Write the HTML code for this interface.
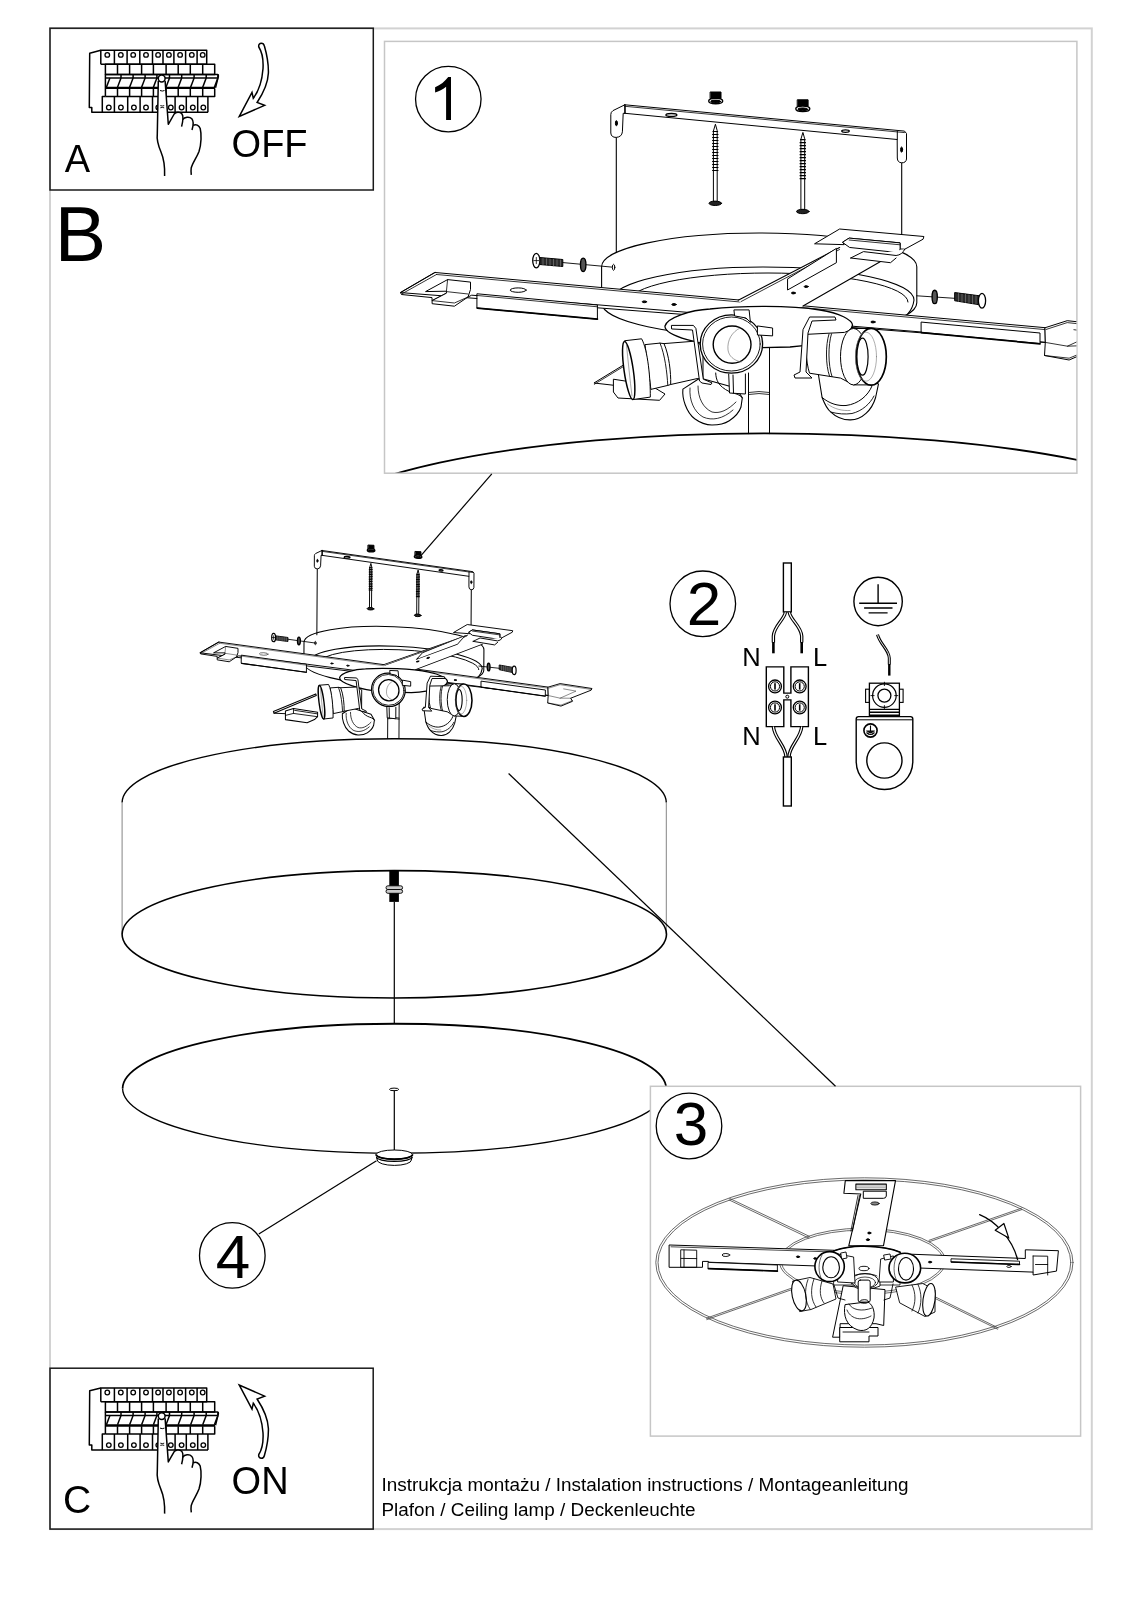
<!DOCTYPE html>
<html><head><meta charset="utf-8"><title>Instrukcja montażu</title>
<style>
html,body{margin:0;padding:0;background:#fff;}
body{width:1131px;height:1600px;overflow:hidden;}
svg{display:block;}
text{font-family:"Liberation Sans",sans-serif;fill:#000;}
</style></head><body>
<svg style="filter:grayscale(1)" width="1131" height="1600" viewBox="0 0 1131 1600">
<rect x="0" y="0" width="1131" height="1600" fill="#fff"/>
<!-- outer frame -->
<rect x="50" y="28.4" width="1041.8" height="1500.7" fill="none" stroke="#d2d2d2" stroke-width="2"/>
<!-- box 1 -->
<rect x="384.5" y="41.4" width="692.4" height="431.8" fill="none" stroke="#c6c6c6" stroke-width="1.5"/>
<!-- box 3 -->

<!-- box A / C -->
<rect x="50" y="28.2" width="323.3" height="161.8" fill="none" stroke="#1a1a1a" stroke-width="1.5"/>
<rect x="50" y="1368.2" width="323.2" height="160.9" fill="none" stroke="#1a1a1a" stroke-width="1.5"/>

<defs>
<g id="brk" fill="none" stroke="#000" stroke-width="1.5" stroke-linejoin="round">
<path d="M100.8,50.3 L89.7,53.2 L89.3,107.5 L91.8,107.5 L91.8,112.3 L208,112.3"/>
<path d="M100.8,64.2 V50.3 H206.7 V64.2 H100.8"/>
<line x1="114.4" y1="50.3" x2="114.4" y2="64.2"/>
<line x1="127.1" y1="50.3" x2="127.1" y2="64.2"/>
<line x1="139.8" y1="50.3" x2="139.8" y2="64.2"/>
<line x1="152.5" y1="50.3" x2="152.5" y2="64.2"/>
<line x1="163.0" y1="50.3" x2="163.0" y2="64.2"/>
<line x1="173.9" y1="50.3" x2="173.9" y2="64.2"/>
<line x1="185.6" y1="50.3" x2="185.6" y2="64.2"/>
<line x1="197.1" y1="50.3" x2="197.1" y2="64.2"/>
<circle cx="107.3" cy="54.9" r="2.3" stroke-width="1.3"/>
<circle cx="120.8" cy="54.9" r="2.3" stroke-width="1.3"/>
<circle cx="133.2" cy="54.9" r="2.3" stroke-width="1.3"/>
<circle cx="146.0" cy="54.9" r="2.3" stroke-width="1.3"/>
<circle cx="158.1" cy="54.9" r="2.3" stroke-width="1.3"/>
<circle cx="168.9" cy="54.9" r="2.3" stroke-width="1.3"/>
<circle cx="180.1" cy="54.9" r="2.3" stroke-width="1.3"/>
<circle cx="191.8" cy="54.9" r="2.3" stroke-width="1.3"/>
<circle cx="202.7" cy="54.9" r="2.3" stroke-width="1.3"/>
<rect x="105.4" y="64.2" width="109.3" height="10.2"/>
<line x1="117.5" y1="64.2" x2="117.5" y2="74.4"/>
<line x1="129.6" y1="64.2" x2="129.6" y2="74.4"/>
<line x1="141.6" y1="64.2" x2="141.6" y2="74.4"/>
<line x1="153.4" y1="64.2" x2="153.4" y2="74.4"/>
<line x1="166.1" y1="64.2" x2="166.1" y2="74.4"/>
<line x1="178.2" y1="64.2" x2="178.2" y2="74.4"/>
<line x1="190.3" y1="64.2" x2="190.3" y2="74.4"/>
<line x1="202.7" y1="64.2" x2="202.7" y2="74.4"/>
<path d="M105.4,74.4 H217.6 Q218.6,74.6 218.4,76 L215.5,87.7"/>
<line x1="105.4" y1="74.4" x2="105.4" y2="96.4"/>
<line x1="106" y1="78" x2="217.5" y2="78"/>
<line x1="109.9" y1="78" x2="106.4" y2="87.2"/>
<line x1="121.0" y1="78" x2="117.5" y2="87.2"/>
<line x1="133.1" y1="78" x2="129.6" y2="87.2"/>
<line x1="145.1" y1="78" x2="141.6" y2="87.2"/>
<line x1="156.9" y1="78" x2="153.4" y2="87.2"/>
<line x1="169.5" y1="78" x2="166.0" y2="87.2"/>
<line x1="181.7" y1="78" x2="178.2" y2="87.2"/>
<line x1="194.1" y1="78" x2="190.6" y2="87.2"/>
<line x1="206.2" y1="78" x2="202.7" y2="87.2"/>
<line x1="217.9" y1="78" x2="214.4" y2="87.2"/>
<line x1="121.0" y1="74.4" x2="121.0" y2="78"/>
<line x1="133.1" y1="74.4" x2="133.1" y2="78"/>
<line x1="145.1" y1="74.4" x2="145.1" y2="78"/>
<line x1="156.9" y1="74.4" x2="156.9" y2="78"/>
<line x1="169.5" y1="74.4" x2="169.5" y2="78"/>
<line x1="181.7" y1="74.4" x2="181.7" y2="78"/>
<line x1="194.1" y1="74.4" x2="194.1" y2="78"/>
<line x1="206.2" y1="74.4" x2="206.2" y2="78"/>
<line x1="217.9" y1="74.4" x2="217.9" y2="78"/>
<line x1="105.4" y1="87.9" x2="215" y2="87.9" stroke-width="2.3"/>
<path d="M105.4,96.4 H214.7 V88.6"/>
<line x1="117.5" y1="88.6" x2="117.5" y2="96.4"/>
<line x1="129.6" y1="88.6" x2="129.6" y2="96.4"/>
<line x1="141.6" y1="88.6" x2="141.6" y2="96.4"/>
<line x1="153.4" y1="88.6" x2="153.4" y2="96.4"/>
<line x1="166.1" y1="88.6" x2="166.1" y2="96.4"/>
<line x1="178.2" y1="88.6" x2="178.2" y2="96.4"/>
<line x1="190.3" y1="88.6" x2="190.3" y2="96.4"/>
<line x1="202.7" y1="88.6" x2="202.7" y2="96.4"/>
<path d="M102.3,112.3 V96.4 H105.4 M207.9,96.4 V112.3"/>
<line x1="114.4" y1="96.4" x2="114.4" y2="112.3"/>
<line x1="127.7" y1="96.4" x2="127.7" y2="112.3"/>
<line x1="140.1" y1="96.4" x2="140.1" y2="112.3"/>
<line x1="152.5" y1="96.4" x2="152.5" y2="112.3"/>
<line x1="164.5" y1="96.4" x2="164.5" y2="112.3"/>
<line x1="175.1" y1="96.4" x2="175.1" y2="112.3"/>
<line x1="186.3" y1="96.4" x2="186.3" y2="112.3"/>
<line x1="197.7" y1="96.4" x2="197.7" y2="112.3"/>
<circle cx="108.8" cy="107.5" r="2.3" stroke-width="1.3"/>
<circle cx="120.9" cy="107.5" r="2.3" stroke-width="1.3"/>
<circle cx="133.9" cy="107.5" r="2.3" stroke-width="1.3"/>
<circle cx="146.0" cy="107.5" r="2.3" stroke-width="1.3"/>
<circle cx="158.3" cy="107.5" r="2.3" stroke-width="1.3"/>
<circle cx="170.8" cy="107.5" r="2.3" stroke-width="1.3"/>
<circle cx="181.6" cy="107.5" r="2.3" stroke-width="1.3"/>
<circle cx="192.8" cy="107.5" r="2.3" stroke-width="1.3"/>
<circle cx="203.3" cy="107.5" r="2.3" stroke-width="1.3"/>
<path fill="#fff" d="M158.3,80.6 L157.3,133.6 C156.5,140 158,145 161,152 C164,159 165,165 164.4,176.5 L191.3,176.5 C191,170 192,165 195,160 C198,154 201,148 201,140 C201.5,134 201,128 199,126 C197.5,124 195,124 193,125.2 C193.5,121 192.5,118 189,117.3 C186,116.7 183.5,118 182.8,119.2 C182.5,115 180,112 177,112.4 C175.5,112.6 174.5,113.2 173.5,115 L168.3,124.3 L165.1,80.6 Z" stroke="none"/>
<path d="M158.3,80.8 L157.3,133.6 C156.5,140 158,145 161,152 C164,159 165,165 164.6,176"/>
<path d="M165.1,80.8 L168.3,124.3 L174.2,114 C175.5,112 180,111.5 182,114 C183.5,116 183,121 181.6,126.6"/>
<path d="M182.6,119.6 C184.5,117 189.5,116.2 191.8,118.8 C193.6,121 193.3,126 192,130.1"/>
<path d="M193.2,125.3 C196,123.8 199,125.3 200.2,128.5 C201.6,134 201.4,144 199,151.5 C196.5,158 192.5,163 191.2,168 C190.8,171 191.1,173 191.3,174.8"/>
<circle cx="161.7" cy="78.5" r="3.4" fill="#fff"/>
<path d="M160,90.5 Q162.3,91.6 164.5,90.5" stroke-width="1"/>
<path d="M160.3,105.6 Q162.3,106.4 164.2,105.6 M160.3,107.8 Q162.3,107 164.2,107.8" stroke-width="0.9"/>
</g>
<g id="asmCanopy">
<!-- canopy -->
<path d="M601.6,302.8 V266.8 A157.6,33.8 0 0 1 916.8,266.8 V302.8 A157.6,33.8 0 0 1 601.6,302.8 Z" fill="#fff" stroke-width="1.1"/>
<path d="M612,300 A151,33 0 0 1 914,300 Q913,308 908,313.7" stroke-width="1.1"/>
<path d="M628,302 A140,29 0 0 1 908,302"/>
</g>
<g id="asmBase">
<!-- wire lines -->
<line x1="616.3" y1="137" x2="616.3" y2="252.5" stroke-width="1.1"/>
<line x1="901.7" y1="162" x2="901.7" y2="234" stroke-width="1.1"/>
<!-- bracket -->
<path d="M624.8,104.8 L904.5,131.1 L906.5,133.5 L906.5,159 Q906,163 901.5,162.8 Q897.5,162.5 897.3,158 L897.2,139.5 L624.8,113.3 Z" fill="#fff"/>
<path d="M624.8,104.8 L613,110.6 Q610.8,112 610.8,114.5 L610.8,133 Q611.2,137.5 616.2,137.4 Q621.8,137 622.4,131.8 L623.2,113.3 L624.8,113.3 Z" fill="#fff"/>
<line x1="624.8" y1="106.3" x2="904.5" y2="132.6" stroke-width="0.8"/>
<line x1="624.8" y1="104.8" x2="624.8" y2="113.3"/>
<line x1="897.3" y1="131.3" x2="897.3" y2="139.5"/>
<ellipse cx="616.4" cy="123.2" rx="1" ry="2.6" fill="#000"/>
<ellipse cx="901.6" cy="149.6" rx="1" ry="2.6" fill="#000"/>
<ellipse cx="671.4" cy="114.9" rx="5.5" ry="1.4" stroke-width="1.3"/>
<ellipse cx="845.5" cy="131.1" rx="3.8" ry="1.2" stroke-width="1.3"/>
<!-- dowels -->
<g id="dowel">
<path d="M710.5,92 H721 V98.5 H710.5 Z" fill="#000"/>
<ellipse cx="715.7" cy="101" rx="7" ry="2.8" fill="#fff" stroke-width="1.4"/>
<ellipse cx="715.7" cy="101.5" rx="5" ry="1.4" fill="#000"/>
</g>
<use href="#dowel" transform="translate(87.1,7.8)"/>
<!-- screws -->
<g id="screw">
<path d="M715.3,124.6 L713.4,131 L713.4,201.5 L717.2,201.5 L717.2,131 Z" fill="#fff"/>
<path d="M713,131.5 H717.6 M712.6,134.5 H718 M712.6,137.5 H718 M712.6,140.5 H718 M712.6,143.5 H718 M712.6,146.5 H718 M712.6,149.5 H718 M712.6,152.5 H718 M712.6,155.5 H718 M712.6,158.5 H718 M712.6,161.5 H718 M712.6,164.5 H718 M712.6,167.5 H718 M712.6,170.5 H718" stroke-width="1.2"/>
<ellipse cx="715.3" cy="203.3" rx="6.3" ry="2.2" fill="#222"/>
</g>
<use href="#screw" transform="translate(87.5,8.2)"/>
<!-- side screw left -->
<line x1="562" y1="262.5" x2="614" y2="267.3" stroke-width="0.9"/>
<path d="M539.5,257.5 L562.8,259.5 L562.8,266.5 L539.5,264.5 Z" fill="#2a2a2a"/>
<path d="M543,258.5 V265 M546.5,258.8 V265.3 M550,259.1 V265.6 M553.5,259.4 V265.9 M557,259.7 V266.2 M560.5,260 V266.3" stroke="#888" stroke-width="0.6"/>
<ellipse cx="536.3" cy="260.6" rx="3.6" ry="7.3" fill="#fff" stroke-width="1.3"/>
<path d="M533.8,260.6 H538.8 M536.3,257.5 V263.7" stroke-width="0.8"/>
<ellipse cx="583.2" cy="264.8" rx="2.7" ry="6.7" fill="#555" stroke-width="1.4"/>
<ellipse cx="613.6" cy="267.3" rx="1.2" ry="3" fill="#fff"/>
<!-- side screw right -->
<line x1="916.7" y1="295.8" x2="956" y2="298.4" stroke-width="0.9"/>
<ellipse cx="934.7" cy="296.9" rx="2.6" ry="6.7" fill="#555" stroke-width="1.4"/>
<path d="M955,292.6 L979.6,295.8 L979.6,304.8 L955,300.8 Z" fill="#2a2a2a"/>
<path d="M958.5,293.5 V301.5 M962,294 V302 M965.5,294.4 V302.5 M969,294.9 V303 M972.5,295.3 V303.5 M976,295.8 V304" stroke="#888" stroke-width="0.6"/>
<ellipse cx="982" cy="300.8" rx="3.6" ry="7.4" fill="#fff" stroke-width="1.3"/>
</g>
<g id="asmArmUR">
<!-- diagonal arm upper-right part -->
<path d="M738.2,300.2 L839.6,247.6 L881,261.2 L803,306 L792,312 L742,304.5 Z" fill="#fff" stroke="none"/>
<path d="M738.2,300.2 L839.6,247.6 M803,306 L881,261.2" stroke-width="1.1"/>
<line x1="741" y1="301.6" x2="839.6" y2="249.5" stroke-width="0.8"/>
<path d="M787.9,278.7 L836.4,248.4 L836.4,262.7 L787.9,289.8 Z" fill="#fff"/>
<ellipse cx="793.4" cy="293" rx="2" ry="0.9" fill="#000"/>
<ellipse cx="806.2" cy="286.6" rx="2" ry="0.9" fill="#000"/>
</g>
<g id="asmArmURB">
<!-- end bracket upper right -->
<path d="M814.9,243.6 L839.6,229 L923.9,236.5 L923.1,239.2 L904.8,249.2 L900.1,249 L900.1,242.9 L849.1,238.1 L842.8,242.1 L844,244.3 Z" fill="#fff"/>
<path d="M842.8,242.1 L849.1,238.1 L900.1,242.9 L900.1,249 Q900,252 897,252.5 L850,247.5 Z" fill="#fff"/>
<path d="M850.7,258 L863.5,251.6 L896.1,255.5 Q902,255 904.8,249.2 M850.7,258 L890.5,262.7 L896.1,258" fill="#fff"/>
<line x1="849.1" y1="240" x2="900.1" y2="244.8" stroke-width="0.8"/>
</g>
<g id="asmBase2">
<!-- main bar -->
<path d="M435.1,272.5 L1045.2,327.7 L1045.3,342.4 L400.6,292.6 Z" fill="#fff"/>
<path d="M435.1,272.5 L400.6,292.6 L401.5,294.5 L432,297.6 L432.1,300.6 L446.4,293.2 L468,297 L471.7,295.2 L600,305 L1045.3,342.4" fill="none"/>
<line x1="436.5" y1="274.5" x2="1045.2" y2="329.6" stroke-width="0.8"/>
<line x1="402" y1="293.8" x2="436.5" y2="274.5" stroke-width="0.8"/>
<!-- right end plate -->
<path d="M1045.2,327.7 L1067.2,320.7 L1126.3,327 L1124.7,330 L1087,345.5 L1090.4,350.8 L1069.1,360 L1044.5,355.5 L1045.3,342.4 Z" fill="#fff"/>
<path d="M1046,329.5 L1067.2,322.6 L1125.5,328.8 M1073.9,329.7 L1096.7,332.7 L1067.4,346.2 M1045.3,342.4 L1067.4,346.2 L1087,345.5 M1044.5,355.5 L1069.1,358.2 L1090.4,349.5" stroke-width="0.8"/>
<!-- left U bracket -->
<path d="M425.9,291.4 L447.6,279.6 L470.5,282.1 L470.5,289.5 L468,297 L454.4,306.2 L432.1,303.7 L432.1,300.6 L446.4,293.2 L446.4,291.6 Z" fill="#fff"/>
<path d="M447.6,279.6 L446.4,291.6 L468,294 M432.1,300.6 L454.4,303 L468,297" stroke-width="0.8"/>
<ellipse cx="518.2" cy="290.1" rx="8" ry="2.2" stroke-width="1"/>
<!-- left rail -->
<path d="M477.3,293.8 L597.4,305 L597.4,319.2 L477.3,308.1 Z" fill="#fff"/>
<line x1="477.3" y1="308.1" x2="597.4" y2="319.2" stroke-width="1.8"/>
<line x1="477.3" y1="295.5" x2="597.4" y2="306.8" stroke-width="0.8"/>
<ellipse cx="644.4" cy="301.8" rx="2.2" ry="0.9" fill="#000"/>
<ellipse cx="674" cy="304.5" rx="2.2" ry="0.9" fill="#000"/>
<!-- right rail -->
<path d="M921.5,322.1 L1040,333 L1040,343.6 L921.5,332.4 Z" fill="#fff"/>
<line x1="921.5" y1="332.6" x2="1040" y2="343.8" stroke-width="1.8"/>
<ellipse cx="873" cy="322" rx="2.2" ry="0.9" fill="#000"/>
</g>
<g id="asmArmLL">
<!-- lower-left end of diagonal arm -->
<path d="M594.3,382.8 L623,365.3 L660,372 L640,388 Z" fill="#fff"/>
<path d="M613.4,379.6 L613.4,392 L618,398 L659.6,400.3 L665,394 L650,385 Z" fill="#fff"/>
<path d="M594.3,384.3 L623,366.8" stroke-width="0.8"/>
</g>
<g id="asmHoldLL">
<!-- lower-left lampholder (down) -->
<path d="M682.9,389.1 C682,398 686,412 694.7,418.8 C701,423.5 706,425 712,425 C720,425 725,423.5 729.3,420.7 C735,417 739,413 741,407 L742.3,397.8 L736,388 L700,378 Z" fill="#fff" stroke-width="1.1"/>
<path d="M690,388 C689,400 694,412 703,417 C712,421 723,419 733,410 M698,386 C698,398 703,408 712,412 C720,414 728,410 736,402" stroke-width="0.8"/>
<path d="M715.7,373 C716,380 718,386 729.3,391.6 C735,394 740,394 742.3,397.8" stroke-width="1"/>
</g>
<g id="asmHoldLR">
<!-- lower-right lampholder (down) -->
<path d="M818,372 L822.1,397.5 C825,405 828,410 830.9,412.1 C836,417 843,420 850.3,419.9 C862,420 872,410 875.6,397.5 L878.5,383.9 L850,372 Z" fill="#fff" stroke-width="1.1"/>
<path d="M822.1,397.5 C830,404 838,406 846,405.5 C858,404 868,396 872,386" stroke-width="1"/>
<path d="M827.5,404 C834,409 842,411 850,410.5" stroke-width="0.6" stroke="#666"/>
<path d="M830.9,412.1 C838,414 845,414.5 852,413.5 C862,411 870,404 874,396" stroke-width="0.9"/>
</g>
<g id="asmPlate">
<!-- plate (disc) -->
<path d="M665,326 C667,318 690,310 710,309 C740,305.5 790,305 820,310 C840,313 852,320 852.5,325 C852,333 830,344 790,347 L740,348 C700,346 664,335 665,326 Z" fill="#fff" stroke-width="1.3"/>
</g>
<g id="asmHoldL">
<!-- left lampholder (pointing left) -->
<path d="M664,343.6 L694.6,341.2 L703,346 L703,379 L697,378.6 L670.7,384.5 Z" fill="#fff"/>
<path d="M645.4,344.6 L660,343.1 L664,343.6 C669,355 671,372 670.7,384.5 L667.8,385.4 L651.3,389.3 Z" fill="#fff"/>
<path d="M660,343.1 C665,355 667,372 667.8,385.4" stroke-width="0.9"/>
<path d="M625,340.7 L641.6,338.8 C648,350 650.5,380 650.3,397.1 L632.8,399.6 Z" fill="#fff"/>
<ellipse cx="628.7" cy="370.4" rx="4.6" ry="29.3" transform="rotate(-8.2 628.7 370.4)" fill="#fff" stroke-width="1.5"/>
<path d="M626.5,345 C628,360 630,380 632,396" stroke-width="0.6" stroke="#666"/>
<!-- left clip -->
<path d="M671.8,325.4 L693.4,325.4 L695.9,328.5 L703.3,379.2 L712,382.9 L711,384.5 L702,383 L699.5,381 L692.5,330 L672,329 Z" fill="#fff" stroke-width="1"/>
</g>
<g id="asmHoldR">
<!-- right lampholder (pointing right) -->
<path d="M807.5,334.3 L844.5,332.4 L853.5,328.5 L871.2,328.5 L871.2,384.9 L853.5,384.9 L840.6,378.1 L809.5,373.2 C805.5,360 805.5,345 807.5,334.3 Z" fill="#fff"/>
<ellipse cx="853.5" cy="356.7" rx="13" ry="28.2" fill="#fff" stroke-width="1"/>
<ellipse cx="871.2" cy="356.7" rx="15.1" ry="28.4" fill="#fff" stroke-width="1.7"/>
<ellipse cx="866" cy="356.7" rx="10.5" ry="24.5" stroke-width="0.6" stroke="#777"/>
<ellipse cx="862.5" cy="356.7" rx="5.6" ry="18.5" fill="#fff" stroke-width="1.2"/>
<path d="M829,334 C825.5,345 825.5,365 829.5,376 M831.5,333.8 C828,345 828,365 832,376.5" stroke-width="0.9"/>
<!-- right clip -->
<path d="M810,317 L835,317 L836,320 L812,321 L808,333 L806,372 L812,378 L795,378 L794,375 L800,372 L803,330 Z" fill="#fff" stroke-width="1"/>
</g>
<g id="asmStem">
<!-- stem -->
<path d="M748.5,373 L748.5,433.7 M769.5,348.3 L769.5,433.7" stroke-width="1"/>
<path d="M748.5,392.5 Q759,390.5 769.5,392.5 M748.5,394.5 Q759,392.5 769.5,394.5" stroke-width="0.8"/>
</g>
<g id="asmHoldC">
<!-- center lampholder -->
<ellipse cx="731.4" cy="344" rx="31.2" ry="29.2" fill="#fff" stroke-width="1.3"/>
<ellipse cx="731.4" cy="344" rx="28.8" ry="27" stroke-width="0.9"/>
<ellipse cx="732.1" cy="344.6" rx="18.9" ry="18.6" stroke-width="1.4"/>
<path d="M740,328 C732,332 727,340 728,350 C729,356 733,360 741,362" stroke-width="0.6" stroke="#666"/>
<path d="M734.3,309.9 L749.1,309.9 L750.4,322.3 L746,318 L735,316 Z" fill="#fff"/>
<path d="M757.8,326 L772.6,328 L772.6,335.9 L757.8,335 Z" fill="#fff"/>
<path d="M728.7,374 L729.5,393 L745.4,394 L745.4,374 M733,375 L733.5,393" fill="#fff" stroke-width="1"/>
</g>
<g id="asmArmLLs">
<path d="M536.7,390.2 L615,356.2 L616,359 L538,393 Z" fill="#fff" stroke-width="1.1"/>
<path d="M538,393 L559,393" stroke-width="1"/>
<path d="M559,388.3 L573.9,383.4 L618.6,388.1 L618.6,396 L612.9,401.3 L599.3,407.2 L559.1,403.4 Z" fill="#fff" stroke-width="1.1"/>
<path d="M573.9,383.4 L573.9,392 L559,396 M573.9,392 L618.6,396 M576,386.5 L618,391" stroke-width="0.9"/>
</g>
<g id="asm" fill="none" stroke="#000" stroke-width="1" stroke-linejoin="round" stroke-linecap="round">
<use href="#asmCanopy"/>
<use href="#asmBase"/>
<use href="#asmBase2"/>
<use href="#asmArmUR"/>
<use href="#asmArmURB"/>
<use href="#asmArmLL"/>
<use href="#asmHoldLL"/>
<use href="#asmHoldLR"/>
<use href="#asmPlate"/>
<use href="#asmHoldL"/>
<use href="#asmHoldR"/>
<use href="#asmStem"/>
<use href="#asmHoldC"/>
</g>
<g id="asmCanopy_s">
<!-- canopy -->
<path d="M601.6,302.8 V266.8 A157.6,33.8 0 0 1 916.8,266.8 V302.8 A157.6,33.8 0 0 1 601.6,302.8 Z" fill="#fff" stroke-width="1.87"/>
<path d="M612,300 A151,33 0 0 1 914,300 Q913,308 908,313.7" stroke-width="1.87"/>
<path d="M628,302 A140,29 0 0 1 908,302"/>
</g>
<g id="asmBase_s">
<!-- wire lines -->
<line x1="616.3" y1="137" x2="616.3" y2="252.5" stroke-width="1.87"/>
<line x1="901.7" y1="162" x2="901.7" y2="234" stroke-width="1.87"/>
<!-- bracket -->
<path d="M624.8,104.8 L904.5,131.1 L906.5,133.5 L906.5,159 Q906,163 901.5,162.8 Q897.5,162.5 897.3,158 L897.2,139.5 L624.8,113.3 Z" fill="#fff"/>
<path d="M624.8,104.8 L613,110.6 Q610.8,112 610.8,114.5 L610.8,133 Q611.2,137.5 616.2,137.4 Q621.8,137 622.4,131.8 L623.2,113.3 L624.8,113.3 Z" fill="#fff"/>
<line x1="624.8" y1="106.3" x2="904.5" y2="132.6" stroke-width="1.36"/>
<line x1="624.8" y1="104.8" x2="624.8" y2="113.3"/>
<line x1="897.3" y1="131.3" x2="897.3" y2="139.5"/>
<ellipse cx="616.4" cy="123.2" rx="1" ry="2.6" fill="#000"/>
<ellipse cx="901.6" cy="149.6" rx="1" ry="2.6" fill="#000"/>
<ellipse cx="671.4" cy="114.9" rx="5.5" ry="1.4" stroke-width="2.21"/>
<ellipse cx="845.5" cy="131.1" rx="3.8" ry="1.2" stroke-width="2.21"/>
<!-- dowels -->
<g id="dowel_s">
<path d="M710.5,92 H721 V98.5 H710.5 Z" fill="#000"/>
<ellipse cx="715.7" cy="101" rx="7" ry="2.8" fill="#fff" stroke-width="2.38"/>
<ellipse cx="715.7" cy="101.5" rx="5" ry="1.4" fill="#000"/>
</g>
<use href="#dowel_s" transform="translate(87.1,7.8)"/>
<!-- screws -->
<g id="screw_s">
<path d="M715.3,124.6 L713.4,131 L713.4,201.5 L717.2,201.5 L717.2,131 Z" fill="#fff"/>
<path d="M713,131.5 H717.6 M712.6,134.5 H718 M712.6,137.5 H718 M712.6,140.5 H718 M712.6,143.5 H718 M712.6,146.5 H718 M712.6,149.5 H718 M712.6,152.5 H718 M712.6,155.5 H718 M712.6,158.5 H718 M712.6,161.5 H718 M712.6,164.5 H718 M712.6,167.5 H718 M712.6,170.5 H718" stroke-width="2.04"/>
<ellipse cx="715.3" cy="203.3" rx="6.3" ry="2.2" fill="#222"/>
</g>
<use href="#screw_s" transform="translate(87.5,8.2)"/>
<!-- side screw left -->
<line x1="562" y1="262.5" x2="614" y2="267.3" stroke-width="1.53"/>
<path d="M539.5,257.5 L562.8,259.5 L562.8,266.5 L539.5,264.5 Z" fill="#2a2a2a"/>
<path d="M543,258.5 V265 M546.5,258.8 V265.3 M550,259.1 V265.6 M553.5,259.4 V265.9 M557,259.7 V266.2 M560.5,260 V266.3" stroke="#888" stroke-width="1.02"/>
<ellipse cx="536.3" cy="260.6" rx="3.6" ry="7.3" fill="#fff" stroke-width="2.21"/>
<path d="M533.8,260.6 H538.8 M536.3,257.5 V263.7" stroke-width="1.36"/>
<ellipse cx="583.2" cy="264.8" rx="2.7" ry="6.7" fill="#555" stroke-width="2.38"/>
<ellipse cx="613.6" cy="267.3" rx="1.2" ry="3" fill="#fff"/>
<!-- side screw right -->
<line x1="916.7" y1="295.8" x2="956" y2="298.4" stroke-width="1.53"/>
<ellipse cx="934.7" cy="296.9" rx="2.6" ry="6.7" fill="#555" stroke-width="2.38"/>
<path d="M955,292.6 L979.6,295.8 L979.6,304.8 L955,300.8 Z" fill="#2a2a2a"/>
<path d="M958.5,293.5 V301.5 M962,294 V302 M965.5,294.4 V302.5 M969,294.9 V303 M972.5,295.3 V303.5 M976,295.8 V304" stroke="#888" stroke-width="1.02"/>
<ellipse cx="982" cy="300.8" rx="3.6" ry="7.4" fill="#fff" stroke-width="2.21"/>
</g>
<g id="asmArmUR_s">
<!-- diagonal arm upper-right part -->
<path d="M738.2,300.2 L839.6,247.6 L881,261.2 L803,306 L792,312 L742,304.5 Z" fill="#fff" stroke="none"/>
<path d="M738.2,300.2 L839.6,247.6 M803,306 L881,261.2" stroke-width="1.87"/>
<line x1="741" y1="301.6" x2="839.6" y2="249.5" stroke-width="1.36"/>
<path d="M787.9,278.7 L836.4,248.4 L836.4,262.7 L787.9,289.8 Z" fill="#fff"/>
<ellipse cx="793.4" cy="293" rx="2" ry="0.9" fill="#000"/>
<ellipse cx="806.2" cy="286.6" rx="2" ry="0.9" fill="#000"/>
</g>
<g id="asmArmURB_s">
<!-- end bracket upper right -->
<path d="M814.9,243.6 L839.6,229 L923.9,236.5 L923.1,239.2 L904.8,249.2 L900.1,249 L900.1,242.9 L849.1,238.1 L842.8,242.1 L844,244.3 Z" fill="#fff"/>
<path d="M842.8,242.1 L849.1,238.1 L900.1,242.9 L900.1,249 Q900,252 897,252.5 L850,247.5 Z" fill="#fff"/>
<path d="M850.7,258 L863.5,251.6 L896.1,255.5 Q902,255 904.8,249.2 M850.7,258 L890.5,262.7 L896.1,258" fill="#fff"/>
<line x1="849.1" y1="240" x2="900.1" y2="244.8" stroke-width="1.36"/>
</g>
<g id="asmBase2">
<!-- main bar -->
<path d="M435.1,272.5 L1045.2,327.7 L1045.3,342.4 L400.6,292.6 Z" fill="#fff"/>
<path d="M435.1,272.5 L400.6,292.6 L401.5,294.5 L432,297.6 L432.1,300.6 L446.4,293.2 L468,297 L471.7,295.2 L600,305 L1045.3,342.4" fill="none"/>
<line x1="436.5" y1="274.5" x2="1045.2" y2="329.6" stroke-width="1.36"/>
<line x1="402" y1="293.8" x2="436.5" y2="274.5" stroke-width="1.36"/>
<!-- right end plate -->
<path d="M1045.2,327.7 L1067.2,320.7 L1126.3,327 L1124.7,330 L1087,345.5 L1090.4,350.8 L1069.1,360 L1044.5,355.5 L1045.3,342.4 Z" fill="#fff"/>
<path d="M1046,329.5 L1067.2,322.6 L1125.5,328.8 M1073.9,329.7 L1096.7,332.7 L1067.4,346.2 M1045.3,342.4 L1067.4,346.2 L1087,345.5 M1044.5,355.5 L1069.1,358.2 L1090.4,349.5" stroke-width="1.36"/>
<!-- left U bracket -->
<path d="M425.9,291.4 L447.6,279.6 L470.5,282.1 L470.5,289.5 L468,297 L454.4,306.2 L432.1,303.7 L432.1,300.6 L446.4,293.2 L446.4,291.6 Z" fill="#fff"/>
<path d="M447.6,279.6 L446.4,291.6 L468,294 M432.1,300.6 L454.4,303 L468,297" stroke-width="1.36"/>
<ellipse cx="518.2" cy="290.1" rx="8" ry="2.2" stroke-width="1.70"/>
<!-- left rail -->
<path d="M477.3,293.8 L597.4,305 L597.4,319.2 L477.3,308.1 Z" fill="#fff"/>
<line x1="477.3" y1="308.1" x2="597.4" y2="319.2" stroke-width="3.06"/>
<line x1="477.3" y1="295.5" x2="597.4" y2="306.8" stroke-width="1.36"/>
<ellipse cx="644.4" cy="301.8" rx="2.2" ry="0.9" fill="#000"/>
<ellipse cx="674" cy="304.5" rx="2.2" ry="0.9" fill="#000"/>
<!-- right rail -->
<path d="M921.5,322.1 L1040,333 L1040,343.6 L921.5,332.4 Z" fill="#fff"/>
<line x1="921.5" y1="332.6" x2="1040" y2="343.8" stroke-width="3.06"/>
<ellipse cx="873" cy="322" rx="2.2" ry="0.9" fill="#000"/>
</g>
<g id="asmArmLL_s">
<!-- lower-left end of diagonal arm -->
<path d="M594.3,382.8 L623,365.3 L660,372 L640,388 Z" fill="#fff"/>
<path d="M613.4,379.6 L613.4,392 L618,398 L659.6,400.3 L665,394 L650,385 Z" fill="#fff"/>
<path d="M594.3,384.3 L623,366.8" stroke-width="1.36"/>
</g>
<g id="asmHoldLL_s">
<!-- lower-left lampholder (down) -->
<path d="M682.9,389.1 C682,398 686,412 694.7,418.8 C701,423.5 706,425 712,425 C720,425 725,423.5 729.3,420.7 C735,417 739,413 741,407 L742.3,397.8 L736,388 L700,378 Z" fill="#fff" stroke-width="1.87"/>
<path d="M690,388 C689,400 694,412 703,417 C712,421 723,419 733,410 M698,386 C698,398 703,408 712,412 C720,414 728,410 736,402" stroke-width="1.36"/>
<path d="M715.7,373 C716,380 718,386 729.3,391.6 C735,394 740,394 742.3,397.8" stroke-width="1.70"/>
</g>
<g id="asmHoldLR_s">
<!-- lower-right lampholder (down) -->
<path d="M818,372 L822.1,397.5 C825,405 828,410 830.9,412.1 C836,417 843,420 850.3,419.9 C862,420 872,410 875.6,397.5 L878.5,383.9 L850,372 Z" fill="#fff" stroke-width="1.87"/>
<path d="M822.1,397.5 C830,404 838,406 846,405.5 C858,404 868,396 872,386" stroke-width="1.70"/>
<path d="M827.5,404 C834,409 842,411 850,410.5" stroke-width="1.02" stroke="#666"/>
<path d="M830.9,412.1 C838,414 845,414.5 852,413.5 C862,411 870,404 874,396" stroke-width="1.53"/>
</g>
<g id="asmPlate_s">
<!-- plate (disc) -->
<path d="M665,326 C667,318 690,310 710,309 C740,305.5 790,305 820,310 C840,313 852,320 852.5,325 C852,333 830,344 790,347 L740,348 C700,346 664,335 665,326 Z" fill="#fff" stroke-width="2.21"/>
</g>
<g id="asmHoldL_s">
<!-- left lampholder (pointing left) -->
<path d="M664,343.6 L694.6,341.2 L703,346 L703,379 L697,378.6 L670.7,384.5 Z" fill="#fff"/>
<path d="M645.4,344.6 L660,343.1 L664,343.6 C669,355 671,372 670.7,384.5 L667.8,385.4 L651.3,389.3 Z" fill="#fff"/>
<path d="M660,343.1 C665,355 667,372 667.8,385.4" stroke-width="1.53"/>
<path d="M625,340.7 L641.6,338.8 C648,350 650.5,380 650.3,397.1 L632.8,399.6 Z" fill="#fff"/>
<ellipse cx="628.7" cy="370.4" rx="4.6" ry="29.3" transform="rotate(-8.2 628.7 370.4)" fill="#fff" stroke-width="2.55"/>
<path d="M626.5,345 C628,360 630,380 632,396" stroke-width="1.02" stroke="#666"/>
<!-- left clip -->
<path d="M671.8,325.4 L693.4,325.4 L695.9,328.5 L703.3,379.2 L712,382.9 L711,384.5 L702,383 L699.5,381 L692.5,330 L672,329 Z" fill="#fff" stroke-width="1.70"/>
</g>
<g id="asmHoldR_s">
<!-- right lampholder (pointing right) -->
<path d="M807.5,334.3 L844.5,332.4 L853.5,328.5 L871.2,328.5 L871.2,384.9 L853.5,384.9 L840.6,378.1 L809.5,373.2 C805.5,360 805.5,345 807.5,334.3 Z" fill="#fff"/>
<ellipse cx="853.5" cy="356.7" rx="13" ry="28.2" fill="#fff" stroke-width="1.70"/>
<ellipse cx="871.2" cy="356.7" rx="15.1" ry="28.4" fill="#fff" stroke-width="2.89"/>
<ellipse cx="866" cy="356.7" rx="10.5" ry="24.5" stroke-width="1.02" stroke="#777"/>
<ellipse cx="862.5" cy="356.7" rx="5.6" ry="18.5" fill="#fff" stroke-width="2.04"/>
<path d="M829,334 C825.5,345 825.5,365 829.5,376 M831.5,333.8 C828,345 828,365 832,376.5" stroke-width="1.53"/>
<!-- right clip -->
<path d="M810,317 L835,317 L836,320 L812,321 L808,333 L806,372 L812,378 L795,378 L794,375 L800,372 L803,330 Z" fill="#fff" stroke-width="1.70"/>
</g>
<g id="asmStem_s">
<!-- stem -->
<path d="M748.5,373 L748.5,433.7 M769.5,348.3 L769.5,433.7" stroke-width="1.70"/>
<path d="M748.5,392.5 Q759,390.5 769.5,392.5 M748.5,394.5 Q759,392.5 769.5,394.5" stroke-width="1.36"/>
</g>
<g id="asmHoldC_s">
<!-- center lampholder -->
<ellipse cx="731.4" cy="344" rx="31.2" ry="29.2" fill="#fff" stroke-width="2.21"/>
<ellipse cx="731.4" cy="344" rx="28.8" ry="27" stroke-width="1.53"/>
<ellipse cx="732.1" cy="344.6" rx="18.9" ry="18.6" stroke-width="2.38"/>
<path d="M740,328 C732,332 727,340 728,350 C729,356 733,360 741,362" stroke-width="1.02" stroke="#666"/>
<path d="M734.3,309.9 L749.1,309.9 L750.4,322.3 L746,318 L735,316 Z" fill="#fff"/>
<path d="M757.8,326 L772.6,328 L772.6,335.9 L757.8,335 Z" fill="#fff"/>
<path d="M728.7,374 L729.5,393 L745.4,394 L745.4,374 M733,375 L733.5,393" fill="#fff" stroke-width="1.70"/>
</g>
<g id="asmArmLLs_s">
<path d="M536.7,390.2 L615,356.2 L616,359 L538,393 Z" fill="#fff" stroke-width="1.87"/>
<path d="M538,393 L559,393" stroke-width="1.70"/>
<path d="M559,388.3 L573.9,383.4 L618.6,388.1 L618.6,396 L612.9,401.3 L599.3,407.2 L559.1,403.4 Z" fill="#fff" stroke-width="1.87"/>
<path d="M573.9,383.4 L573.9,392 L559,396 M573.9,392 L618.6,396 M576,386.5 L618,391" stroke-width="1.53"/>
</g>
<g id="asmSmall" fill="none" stroke="#000" stroke-width="1.70" stroke-linejoin="round" stroke-linecap="round">
<use href="#asmCanopy_s" transform="translate(759.2,0) scale(1.057,1) translate(-759.2,0)"/>
<use href="#asmBase_s"/>
<use href="#asmBase2"/>
<use href="#asmArmUR_s" transform="matrix(1,0,-1,1.09,303,-27.27)"/>
<use href="#asmArmURB_s" transform="translate(55,-5)"/>
<use href="#asmArmLLs_s"/>
<use href="#asmHoldLL_s" transform="translate(-18.5,0)"/>
<use href="#asmHoldLR_s" transform="translate(-3,0)"/>
<use href="#asmPlate_s" transform="translate(758.75,0) scale(1.065,1) translate(-758.75,0)"/>
<use href="#asmHoldL_s" transform="translate(-3,0)"/>
<use href="#asmHoldR_s" transform="translate(18,0)"/>
<use href="#asmStem_s"/>
<use href="#asmHoldC_s" transform="translate(18,0)"/>
</g>

<clipPath id="clipS"><rect x="150" y="500" width="500" height="239"/></clipPath>
<clipPath id="clip1"><rect x="385.2" y="42.2" width="691.2" height="430.2"/></clipPath>
</defs>
<use href="#brk"/>
<use href="#brk" transform="translate(0,1337.6)"/>
<g fill="none" stroke="#000" stroke-width="1.2">
<path d="M239.3,116.4 L252,92.4 L253.3,98.3 C258,92 262,82 263,68.7 C263.5,60 262,52 258.8,47 C258.2,44.5 259.8,43.2 261.3,43.2 C262.8,43.2 264,44.3 264.4,46 C267,55 268.6,64 268.4,73 C268,82 264,92 257.1,102.5 L264.6,105.4 Z" stroke-width="1.5"/>
</g>
<g fill="none" stroke="#000" stroke-width="1.2" transform="translate(0,1501.5) scale(1,-1)">
<path d="M239.3,116.4 L252,92.4 L253.3,98.3 C258,92 262,82 263,68.7 C263.5,60 262,52 258.8,47 C258.2,44.5 259.8,43.2 261.3,43.2 C262.8,43.2 264,44.3 264.4,46 C267,55 268.6,64 268.4,73 C268,82 264,92 257.1,102.5 L264.6,105.4 Z" stroke-width="1.5"/>
</g>
<g clip-path="url(#clip1)">
<use href="#asm"/>
<ellipse cx="765" cy="533.3" rx="460" ry="100" fill="none" stroke="#000" stroke-width="1.8"/>
</g>
<g clip-path="url(#clipS)"><use href="#asmSmall" transform="matrix(0.540,0.0221,-0.0036,0.5713,-15.04,476.8)"/></g>
<g fill="none" stroke="#000" stroke-width="1.4">
<!-- cable top -->
<rect x="783.4" y="563" width="7.9" height="48.9"/>
<!-- wires up -->
<path d="M785.4,612.3 C784,620 774,626 773.4,636 V642.5" stroke-width="3.4"/>
<path d="M785.4,612.3 C784,620 774,626 773.4,636 V642.5" stroke-width="1.2" stroke="#fff"/>
<path d="M789.3,612.3 C790.5,620 801,626 801.7,636 V642.5" stroke-width="3.4"/>
<path d="M789.3,612.3 C790.5,620 801,626 801.7,636 V642.5" stroke-width="1.2" stroke="#fff"/>
<line x1="773.4" y1="642" x2="773.4" y2="653.3" stroke-width="2.6"/>
<line x1="801.7" y1="642" x2="801.7" y2="653.3" stroke-width="2.6"/>
<!-- terminal block -->
<path d="M766.3,666.9 H783.8 V693.1 H790.9 V666.9 H808.4 V726.6 H790.9 V699.9 H783.8 V726.6 H766.3 Z"/>
<circle cx="787.3" cy="696.7" r="1.5" stroke-width="1"/>
<g id="tscrew">
<circle cx="775" cy="686.4" r="6.4" stroke-width="1.3"/>
<circle cx="775" cy="686.4" r="4.6" stroke-width="1"/>
<rect x="774.2" y="683.2" width="1.6" height="6.4" fill="#000" stroke="none"/>
</g>
<use href="#tscrew" transform="translate(24.7,0)"/>
<use href="#tscrew" transform="translate(0,21.1)"/>
<use href="#tscrew" transform="translate(24.7,21.1)"/>
<!-- wires down -->
<path d="M773.4,726.6 C774,738 786,746 786,757" stroke-width="3.4"/>
<path d="M773.4,726.6 C774,738 786,746 786,757" stroke-width="1.2" stroke="#fff"/>
<path d="M801.7,726.6 C801,738 789,746 789,757" stroke-width="3.4"/>
<path d="M801.7,726.6 C801,738 789,746 789,757" stroke-width="1.2" stroke="#fff"/>
<rect x="783.4" y="757" width="7.9" height="49" fill="#fff"/>
<!-- earth symbol -->
<circle cx="878.1" cy="601.5" r="24.2" stroke-width="1.4"/>
<path d="M878.1,584.2 V603.3 M859.2,603.3 H897 M864.1,608 H892.5 M868.6,612.9 H887.6" stroke-width="1.4"/>
<!-- green wire -->
<path d="M877.5,634.6 C880,644 889,650 889.3,658 V664.6" stroke-width="3"/>
<path d="M877.5,634.6 C880,644 889,650 889.3,658 V664.6" stroke-width="0.9" stroke="#fff"/>
<line x1="889.3" y1="664" x2="889.3" y2="675.6" stroke-width="2.4"/>
<!-- earth terminal -->
<rect x="865.6" y="689.2" width="3.8" height="13.2" stroke-width="1.1"/>
<rect x="899.4" y="689.2" width="3.7" height="13.2" stroke-width="1.1"/>
<rect x="869.4" y="683.2" width="30" height="32.7" fill="#fff" stroke-width="1.3"/>
<circle cx="884.4" cy="695.6" r="11.8" stroke-width="1.2"/>
<circle cx="884.4" cy="695.6" r="6.5" stroke-width="1.3"/>
<path d="M884.4,681.8 V686 M884.4,705.2 V709.4 M870.5,695.6 H874.5 M894.3,695.6 H898.3" stroke-width="0.9"/>
<path d="M869.4,709.4 H899.4 M869.4,712.3 H899.4 M869.4,715.3 H899.4" stroke-width="1.4"/>
<path d="M856.2,761.2 V719 Q856.2,716.6 858.6,716.6 H910.4 Q912.8,716.6 912.8,719 V761.2 A28.3,28.3 0 0 1 856.2,761.2 Z" fill="#fff" stroke-width="1.4"/>
<line x1="856.5" y1="719.8" x2="912.5" y2="719.8" stroke-width="1"/>
<circle cx="870.5" cy="730.5" r="6.6" stroke-width="1.6"/>
<path d="M870.5,725.5 V731 M866.2,731 H874.8 M866.5,732.5 Q870.5,736.5 874.5,732.5" stroke-width="1.1"/>
<path d="M867.5,731.5 Q870.5,734.5 873.5,731.5 Z" fill="#000" stroke-width="0.8"/>
<circle cx="884.4" cy="760.5" r="17.6" stroke-width="1.4"/>
</g>
<g font-size="25.5">
<text x="742.3" y="666.1">N</text>
<text x="813.1" y="666.1">L</text>
<text x="742.3" y="744.9">N</text>
<text x="813.1" y="744.9">L</text>
</g>

<!-- SHADE -->
<g fill="none" stroke="#000">
<path d="M122.1,802.5 A272.1,63.8 0 0 1 666.3,802.5" stroke-width="1.45"/>
<line x1="122.1" y1="802.5" x2="122.1" y2="934" stroke-width="0.9" stroke="#777"/>
<line x1="666.3" y1="802.5" x2="666.3" y2="934" stroke-width="0.9" stroke="#777"/>
<ellipse cx="394.3" cy="934.3" rx="272.2" ry="63.7" stroke-width="1.6"/>
<!-- diffuser -->
<path d="M122.6,1088.5 A271.8,64.8 0 0 1 666.2,1088.5" stroke-width="1.8"/>
<path d="M122.6,1088.5 A271.8,64.8 0 0 0 666.2,1088.5" stroke-width="1.3"/>
</g>
<rect x="650.4" y="1086.3" width="430.2" height="349.8" fill="#fff" stroke="#c6c6c6" stroke-width="1.5"/>
<g fill="none" stroke="#000" stroke-linejoin="round" stroke-linecap="round">
<!-- big diffuser ellipse (double thin) -->
<g stroke="#444" stroke-width="0.8">
<ellipse cx="864.4" cy="1262.5" rx="208.6" ry="84.7"/>
<ellipse cx="864.4" cy="1262.5" rx="206.4" ry="82.5"/>
<ellipse cx="862.5" cy="1261.4" rx="83.1" ry="33.2"/>
<ellipse cx="862.5" cy="1261.4" rx="81" ry="31.2"/>
<path d="M729.8,1198.5 L809.5,1236.4 M729.2,1200 L808.8,1238"/>
<path d="M706.4,1318.2 L792,1288 M706.8,1319.6 L792.4,1289.4"/>
<path d="M929,1240.3 L1021.4,1208.2 M929.4,1241.7 L1021.8,1209.6"/>
<path d="M934.9,1296.7 L998.1,1327.8 M934.5,1298.2 L997.7,1329.2"/>
</g>
<!-- top arm -->
<path d="M845.3,1180.6 L895.5,1180.6 L883.5,1245.7 L848.8,1245.7 L860.8,1194 L843.9,1193.3 Z" fill="#fff" stroke-width="1.1"/>
<path d="M858,1195.5 L850.9,1231 M859.6,1195.5 L852.5,1231" stroke-width="0.8"/>
<path d="M855.9,1184.1 H886.3 V1189.8 H855.9 Z" fill="#fff" stroke-width="1.1"/>
<path d="M857,1186 H885 M857,1187.8 H885" stroke-width="0.6" stroke="#555"/>
<path d="M863.7,1191.2 H886.3 V1196 Q886,1198.3 883.5,1198.3 H863.7 Z" fill="#fff" stroke-width="1"/>
<ellipse cx="875" cy="1203.5" rx="4.2" ry="1.6" fill="#888" stroke-width="0.8"/>
<ellipse cx="869.3" cy="1233" rx="1.6" ry="0.9" fill="#000"/>
<ellipse cx="867.9" cy="1239.7" rx="1.6" ry="0.9" fill="#000"/>
<!-- left arm -->
<path d="M669.5,1245 L834,1250.3 L834,1266.6 L708.4,1262.2 L708.4,1261.4 L702.5,1261.4 L702.5,1267.3 L669.5,1267.3 Z" fill="#fff" stroke-width="1"/>
<path d="M671,1246.8 L834,1252" stroke-width="0.7"/>
<path d="M708.4,1262.4 L777.4,1265 L777.4,1271.1 L708.4,1268.5 Z" fill="#fff" stroke-width="0.9"/>
<line x1="708.4" y1="1268.6" x2="777.4" y2="1271.1" stroke-width="1.6"/>
<path d="M681.1,1249.8 L696.7,1250.2 L696.7,1267.3 L681.1,1267.3 Z M681.1,1258.4 L696.7,1258.6 M684,1250 L684,1267.3" stroke-width="0.9"/>
<ellipse cx="725.9" cy="1255" rx="3.8" ry="1.5" stroke-width="0.9"/>
<ellipse cx="798" cy="1256.8" rx="1.6" ry="0.8" fill="#000"/>
<ellipse cx="815.3" cy="1258.5" rx="1.6" ry="0.8" fill="#000"/>
<!-- right arm -->
<path d="M900.2,1253.8 L1025.3,1258.5 L1025.3,1249.8 L1058.4,1250.7 L1056.5,1271.1 L1033.1,1275 L1033.1,1272.1 L921.3,1268.1 Z" fill="#fff" stroke-width="1"/>
<path d="M951.4,1258.8 L1019.5,1261.2 L1019.5,1264.3 L951.4,1262 Z" stroke-width="0.9"/>
<line x1="951.4" y1="1262" x2="1019.5" y2="1264.5" stroke-width="1.6"/>
<path d="M1033.1,1256 L1047.7,1256.2 L1047.7,1275 M1033.1,1256 L1033.1,1272 M1035.5,1264.5 L1047.7,1264.5" stroke-width="0.9"/>
<ellipse cx="930" cy="1262.1" rx="1.6" ry="0.8" fill="#000"/>
<ellipse cx="1009" cy="1266.5" rx="2.2" ry="1" stroke-width="0.8"/>
<!-- bottom arm -->
<path d="M843.1,1286.1 L832.6,1337.2 L840.1,1337.2 L840.1,1323.7 L876,1323.7 L883.7,1325.5 L885,1290 Z" fill="#fff" stroke-width="1"/>
<path d="M840.1,1327.5 L878,1327.5 L878,1336 L869,1336 L869,1341.8 L840.1,1341.8 Z" fill="#fff" stroke-width="1"/>
<path d="M843,1332 L869,1332" stroke-width="0.9"/>
<!-- center plate -->
<path d="M834.1,1250.8 C845,1247 856,1246 864.2,1246.3 C880,1246.5 893,1249 900.2,1252.3 L900,1285 L834,1285 Z" fill="#fff" stroke-width="0.8"/>
<path d="M834.1,1250.8 C845,1247 856,1246 864.2,1246.3 C880,1246.5 893,1249 900.2,1252.3" stroke-width="1.6"/>
<!-- left-down holder -->
<path d="M793,1281 L810,1277.5 L833,1284 L836,1299 L811,1309.5 L800,1311.5 Z" fill="#fff" stroke-width="0.9"/>
<ellipse cx="799" cy="1295.5" rx="6.8" ry="15.6" transform="rotate(-12 799 1295.5)" fill="#fff" stroke-width="1.1"/>
<path d="M808,1279.5 C804,1290 805,1302 810,1309 M814,1279 C810,1290 811,1300 816,1307" stroke-width="0.8"/>
<path d="M822,1281 C819,1290 820,1298 824,1303" stroke-width="0.8"/>
<!-- right-down holder -->
<path d="M896,1287 L922.8,1283.5 L935,1290 L935,1312 L925,1316.5 L900,1303 Z" fill="#fff" stroke-width="0.9"/>
<ellipse cx="929" cy="1299.8" rx="6" ry="16.4" transform="rotate(8 929 1299.8)" fill="#fff" stroke-width="1.1"/>
<path d="M912,1285 C916,1293 916,1303 912,1311 M918,1284.5 C922,1293 922,1304 918,1313" stroke-width="0.8"/>
<!-- center down holder + pipe -->
<path d="M845,1305 C843,1315 846,1326 858,1330 C866,1332 872,1328 874,1318 C875,1310 872,1304 868,1302 Z" fill="#fff" stroke-width="1"/>
<path d="M847,1310 C850,1318 860,1322 871,1316 M849,1304 C852,1310 862,1312 872,1308" stroke-width="0.8"/>
<path d="M850,1280 C852,1290 865,1292 880,1286 L880,1280" fill="#fff" stroke-width="0.9"/>
<ellipse cx="865" cy="1281" rx="13.5" ry="7.5" fill="#fff" stroke-width="0.9"/>
<ellipse cx="865" cy="1282.5" rx="10.5" ry="5.5" stroke-width="0.7"/>
<path d="M853,1276 C858,1273 872,1273 877,1276" stroke-width="0.8"/>
<rect x="858.2" y="1280.1" width="12" height="22" rx="2" fill="#fff" stroke-width="1"/>
<ellipse cx="864.2" cy="1301.5" rx="4.2" ry="1.8" stroke-width="0.9"/>
<ellipse cx="864" cy="1268.5" rx="5" ry="2.2" stroke-width="0.9"/>
<!-- upper holders -->
<path d="M838,1254 L853.6,1257 L855,1283 L838,1282 Z" fill="#fff" stroke-width="0.9"/>
<ellipse cx="829.6" cy="1266.6" rx="14.7" ry="15" fill="#fff" stroke-width="1.6"/>
<ellipse cx="831.1" cy="1267.3" rx="8.3" ry="10.5" stroke-width="1.1"/>
<path d="M822,1255 C818,1262 818,1273 822,1280" stroke-width="0.6"/>
<path d="M893,1256 L880.7,1259 L879,1282 L893,1282 Z" fill="#fff" stroke-width="0.9"/>
<ellipse cx="904.8" cy="1268.1" rx="15.8" ry="14.8" fill="#fff" stroke-width="1.6"/>
<ellipse cx="906" cy="1268.8" rx="7.5" ry="11.3" stroke-width="1.1"/>
<path d="M897,1256 C893,1262 893,1275 897,1281" stroke-width="0.6"/>
<!-- clips -->
<path d="M841,1253 L846,1252 L847,1258 L842,1259 Z M884,1255 L890,1254 L891,1259 L885,1260 Z" fill="#fff" stroke-width="0.9"/>
<path d="M834,1285 L838,1298 L845,1300 M893,1284 L890,1298 L884,1300" stroke-width="0.9"/>
<!-- rotation arrow -->
<path d="M979.6,1214.7 C995,1221 1012,1238 1017.6,1259.5" stroke-width="1.3"/>
<path d="M995.2,1230.3 L1003.9,1223.5 L1008.8,1238.1 Z" fill="#fff" stroke-width="1.2"/>
</g>

<!-- rod -->
<rect x="389.3" y="870.6" width="9.6" height="31.3" fill="#000"/>
<rect x="386" y="885.8" width="16.6" height="3.8" rx="1.9" fill="#ccc" stroke="#000" stroke-width="0.9"/>
<rect x="386" y="889.5" width="16.6" height="3.8" rx="1.9" fill="#ccc" stroke="#000" stroke-width="0.9"/>
<line x1="394.3" y1="902" x2="394.3" y2="1024" stroke="#000" stroke-width="1.2"/>
<ellipse cx="394.1" cy="1089.4" rx="4.6" ry="1.3" fill="none" stroke="#000" stroke-width="1"/>
<line x1="394.3" y1="1090.5" x2="394.3" y2="1151" stroke="#000" stroke-width="1.2"/>
<!-- knob -->
<g fill="none" stroke="#000">
<path d="M376.6,1157 L377.2,1160 A17.1,5.4 0 0 0 411.4,1160 L412,1157" fill="#fff" stroke-width="1"/>
<ellipse cx="394.3" cy="1154.6" rx="18.2" ry="4.6" fill="#fff" stroke-width="1"/>
<path d="M376.1,1154.6 A18.2,4.6 0 0 0 412.5,1154.6" stroke-width="1.9"/>
<path d="M376.4,1156.8 A17.9,4.6 0 0 0 412.2,1156.8" stroke-width="1.2"/>
</g>
<!-- pointer lines -->
<g stroke="#000" stroke-width="1.2">
<line x1="258.8" y1="1234" x2="376.5" y2="1160.7"/>
<line x1="491.8" y1="473.8" x2="420.5" y2="556.2"/>
<line x1="508.6" y1="773.5" x2="835.5" y2="1086.3"/>
</g>
<!-- letters -->
<text x="64.7" y="171.9" font-size="38">A</text>
<text x="231.6" y="156.6" font-size="38">OFF</text>
<text x="54.8" y="261" font-size="77">B</text>
<text x="63.1" y="1512.5" font-size="39">C</text>
<text x="231.6" y="1494.3" font-size="38">ON</text>

<!-- numbered circles -->
<g fill="none" stroke="#000" stroke-width="1.3">
<circle cx="448.3" cy="99.1" r="32.75"/>
<circle cx="702.8" cy="603.8" r="32.8"/>
<circle cx="689" cy="1126" r="32.8"/>
<circle cx="232.3" cy="1255.4" r="32.8"/>
</g>
<g font-size="62" text-anchor="middle">

<text x="704" y="624.9">2</text>
<text x="691" y="1144.8">3</text>
<text x="233" y="1278">4</text>
</g>

<path d="M446.1,120.1 V86.8 C442.5,89.6 439,91.3 435.1,92.6 V87.3 C440.5,85 445,81.3 448.2,77 H451 V120.1 Z" fill="#000"/>
<!-- bottom text -->
<text x="381.5" y="1490.5" font-size="18.9">Instrukcja montażu / Instalation instructions / Montageanleitung</text>
<text x="381.5" y="1515.5" font-size="18.9">Plafon / Ceiling lamp / Deckenleuchte</text>

</svg>
</body></html>
